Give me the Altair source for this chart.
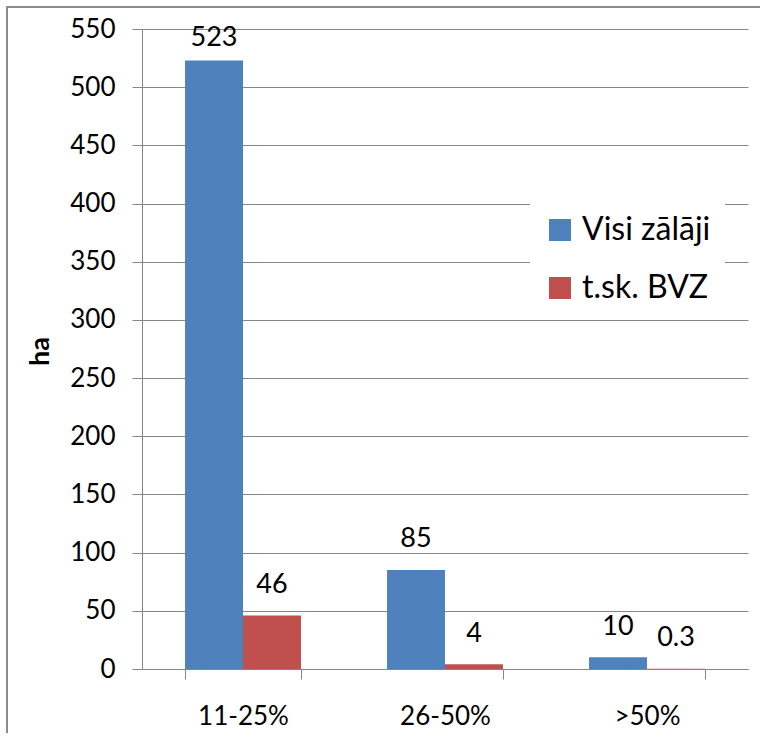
import altair as alt
import pandas as pd

# Grassland area by share of overgrowth, in hectares
categories = ["11-25%", "26-50%", ">50%"]
series = ["Visi zālāji", "t.sk. BVZ"]
visi_zalaji = [523, 85, 10]
bvz = [46, 4, 0.3]
y_ticks = list(range(0, 551, 50))

colors = ["#4F81BD", "#C0504D"]
grid_gray = "#868686"
font = "Lato"

rows = []
for cat, a, b in zip(categories, visi_zalaji, bvz):
    rows.append({"cat": cat, "series": series[0], "value": a})
    rows.append({"cat": cat, "series": series[1], "value": b})
df = pd.DataFrame(rows)

x_enc = alt.X(
    "cat:N",
    sort=categories,
    scale=alt.Scale(paddingInner=0.426, paddingOuter=0.213),
    axis=alt.Axis(
        title=None,
        tickBand="extent",
        tickSize=10,
        tickColor=grid_gray,
        domainColor=grid_gray,
        labelFontSize=26,
        labelFont=font,
        labelColor="black",
        labelPadding=24,
        labelAngle=0,
        grid=False,
    ),
)
xoff_enc = alt.XOffset("series:N", sort=series, scale=alt.Scale(paddingInner=0))

y_scale = alt.Scale(domain=[0, 550], nice=False)

# Outer chart frame: left and top edges, kept inside the canvas
one = pd.DataFrame({"k": [0]})
frame_left = (
    alt.Chart(one)
    .mark_rule(stroke="#8c8c8c", strokeWidth=2)
    .encode(x=alt.value(-135), y=alt.value(-23), y2=alt.value(707))
)
frame_top = (
    alt.Chart(one)
    .mark_rule(stroke="#8c8c8c", strokeWidth=2)
    .encode(y=alt.value(-22), x=alt.value(-136), x2=alt.value(618))
)

bars = (
    alt.Chart(df)
    .mark_bar()
    .encode(
        x=x_enc,
        xOffset=xoff_enc,
        y=alt.Y(
            "value:Q",
            scale=y_scale,
            axis=alt.Axis(
                values=y_ticks,
                title="ha",
                titleFont=font,
                titleFontSize=27,
                titleFontWeight="bold",
                titleColor="black",
                titleAngle=-90,
                titleX=-94,
                titleY=322,
                titleAlign="center",
                titleBaseline="alphabetic",
                tickSize=10,
                tickColor=grid_gray,
                domainColor=grid_gray,
                gridColor=grid_gray,
                labelFontSize=26,
                labelFont=font,
                labelColor="black",
                labelPadding=17,
            ),
        ),
        color=alt.Color(
            "series:N",
            sort=series,
            scale=alt.Scale(domain=series, range=colors),
            legend=alt.Legend(
                title=None,
                orient="none",
                legendX=388,
                legendY=171,
                fillColor="white",
                padding=14,
                symbolType="square",
                symbolSize=484,
                symbolStrokeWidth=0,
                labelFont=font,
                labelFontSize=32,
                labelColor="black",
                labelOffset=6,
                rowPadding=26,
            ),
        ),
    )
)

# Value labels sit above each bar, kept inside the top of the plot area
labels = (
    alt.Chart(df)
    .transform_calculate(labpos="min(datum.value + 19.5, 535)")
    .mark_text(font=font, fontSize=27, color="black", baseline="alphabetic")
    .encode(
        x=x_enc,
        xOffset=xoff_enc,
        y=alt.Y("labpos:Q", scale=y_scale),
        text=alt.Text("value:Q", format="~g"),
    )
)

chart = (
    alt.layer(frame_left, frame_top, bars, labels)
    .properties(
        width=606,
        height=640,
        padding={"left": 142, "top": 29, "right": 12, "bottom": 64},
        autosize=alt.AutoSizeParams(type="none"),
        background="white",
    )
    .configure_view(strokeWidth=0)
)

chart.save("out.html", embed_options={"renderer": "svg", "actions": False})
